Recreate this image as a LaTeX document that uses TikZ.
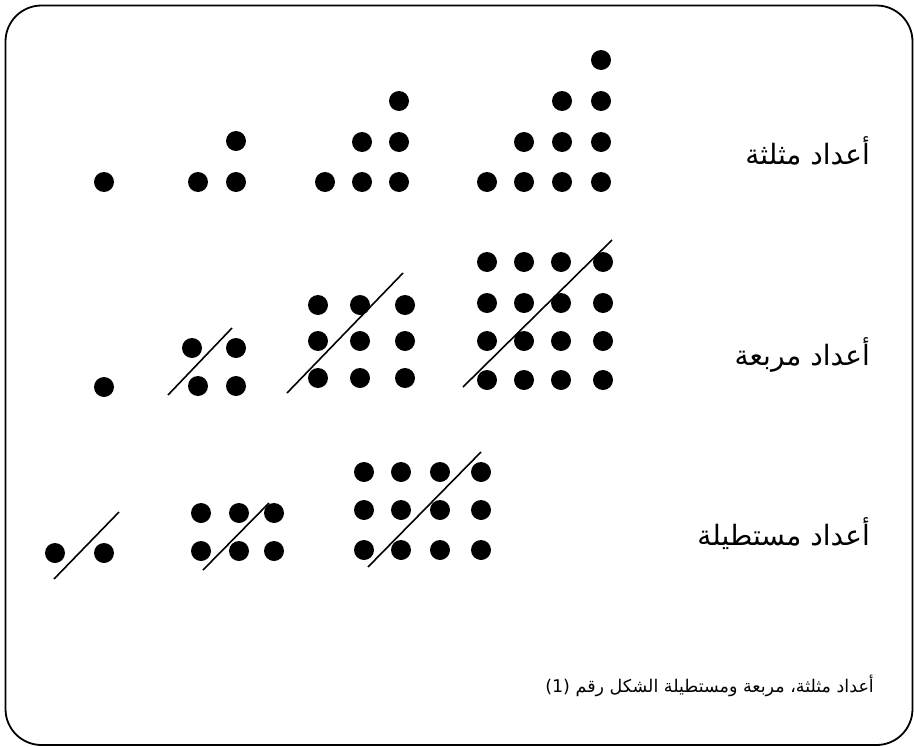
\documentclass[tikz,border=0pt]{standalone}
\usepackage{fontspec}
\newfontfamily\arabicfont[Script=Arabic]{DejaVu Sans}
\TeXXeTstate=1
\usetikzlibrary{positioning}

\begin{document}
\begin{tikzpicture}[x=1pt,y=-1pt,
 dot/.style={fill=black},
 slash/.style={line width=1.6pt},
 frame/.style={line width=1.8pt,rounded corners=36pt},
 lbl/.style={anchor=base east,inner sep=0pt,font=\arabicfont\fontsize{28}{32}\selectfont},
 capt/.style={lbl,font=\arabicfont\fontsize{17.5}{21}\selectfont}
]
\useasboundingbox (0,0) rectangle (914,747);
\draw[frame] (5.5,5.5) rectangle (912.5,745);

% triangular numbers
\foreach \x/\y in {104/182,
                   198/182,236/182,236/141,
                   325/182,362/182,399/182,362/142,399/142,399/101,
                   487/182,524/182,562/182,601/182,524/142,562/142,601/142,562/101,601/101,601/60}
  \fill[dot] (\x,\y) circle (10pt);

% square numbers
\foreach \x/\y in {104/387,
                   192/348,236/348,198/386,236/386,
                   318/305,360/305,405/305,318/341,360/341,405/341,318/378,360/378,405/378,
                   487/262,524/262,561/262,603/262,487/303,524/303,561/303,603/303,
                   487/341,524/341,561/341,603/341,487/380,524/380,561/380,603/380}
  \fill[dot] (\x,\y) circle (10pt);
\draw[slash] (168,395) -- (232,328);
\draw[slash] (287,393) -- (403,273);
\draw[slash] (463,387) -- (612,240);

% rectangular numbers
\foreach \x/\y in {55/553,104/553,
                   201/513,239/513,274/513,201/551,239/551,274/551,
                   364/472,401/472,440/472,481/472,364/510,401/510,440/510,481/510,
                   364/550,401/550,440/550,481/550}
  \fill[dot] (\x,\y) circle (10pt);
\draw[slash] (54,579) -- (119,512);
\draw[slash] (203,570) -- (269,503);
\draw[slash] (368,567) -- (481,452);

% labels
\node[lbl] (tri) at (870,164) {\beginR أعداد مثلثة\endR};
\node[lbl] (squ) at (870,365) {\beginR أعداد مربعة\endR};
\node[lbl] (rec) at (870,545) {\beginR أعداد مستطيلة\endR};
\node[capt] (cap) at (874,692) {\beginR أعداد مثلثة، مربعة ومستطيلة الشكل رقم \beginL(1)\endL\endR};
\end{tikzpicture}
\end{document}
